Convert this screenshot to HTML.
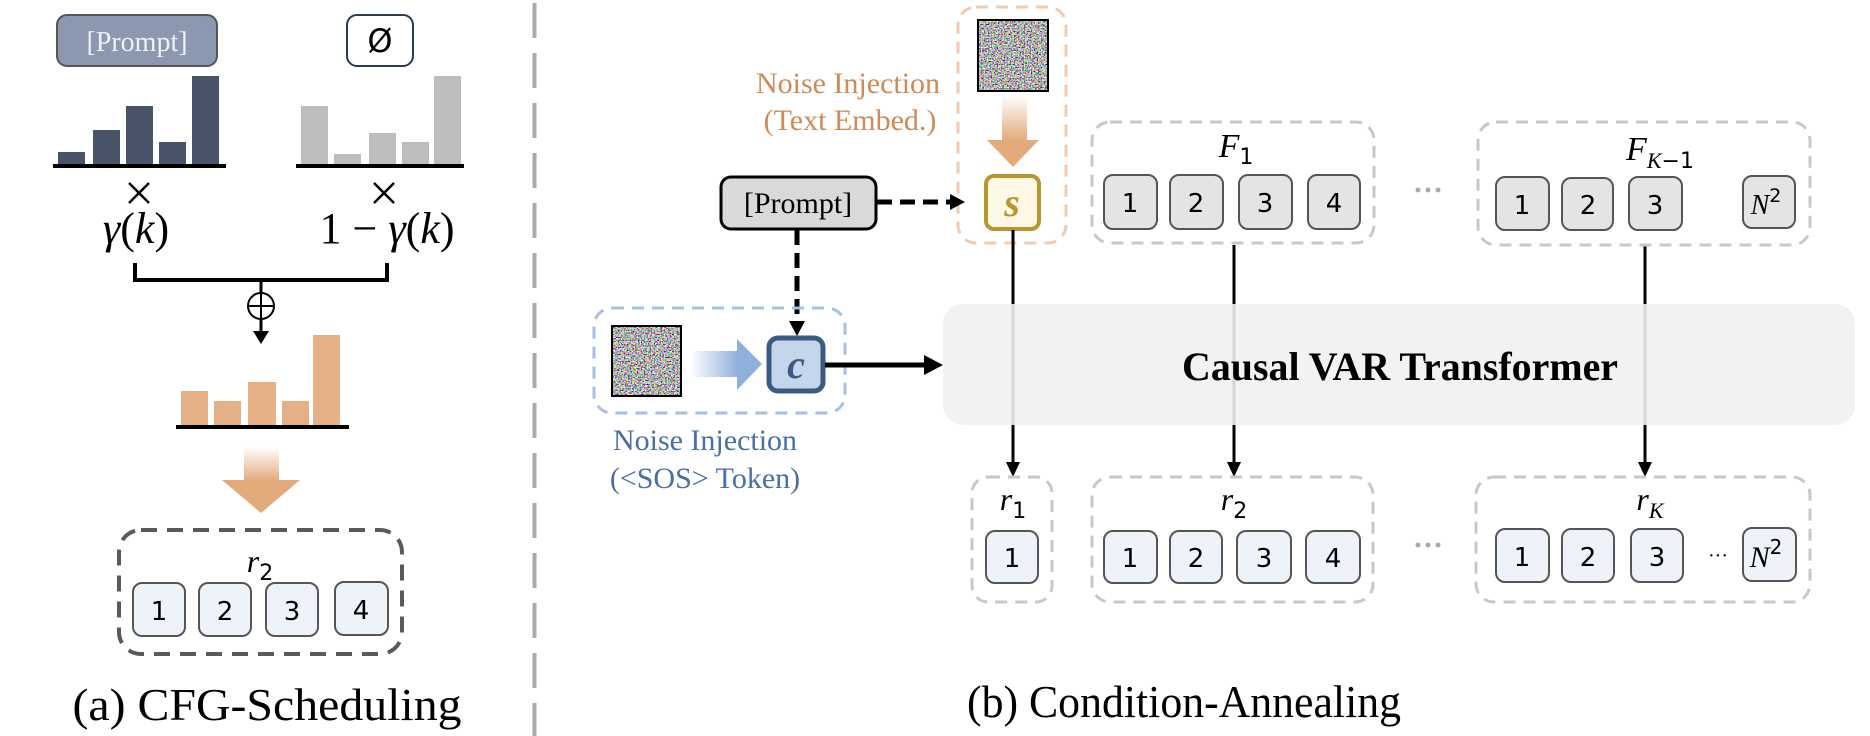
<!DOCTYPE html>
<html><head><meta charset="utf-8"><style>
html,body{margin:0;padding:0;background:#fff;}
svg{display:block;}
</style></head><body>
<svg width="1870" height="736" viewBox="0 0 1870 736" xmlns="http://www.w3.org/2000/svg">
<defs>
<filter id="nz" x="0" y="0" width="100%" height="100%">
<feTurbulence type="fractalNoise" baseFrequency="0.7" numOctaves="1" seed="3" result="t"/>
<feColorMatrix in="t" type="matrix" values="3.4 0 0 0 -1.2  0 3.4 0 0 -1.2  0 0 3.4 0 -1.2  0 0 0 0 1"/>
</filter>
<linearGradient id="og" x1="0" y1="0" x2="0" y2="1"><stop offset="0" stop-color="#e3aa7c" stop-opacity="0"/><stop offset="1" stop-color="#e3aa7c"/></linearGradient>
<linearGradient id="bg" x1="0" y1="0" x2="1" y2="0"><stop offset="0" stop-color="#8fb0db" stop-opacity="0"/><stop offset="1" stop-color="#8fb0db"/></linearGradient>
</defs>
<g font-family="'Liberation Serif', serif">

<!-- LEFT PANEL -->
<rect x="57" y="15" width="160" height="51" rx="10" fill="#8c98b0" stroke="#555" stroke-width="2"/>
<text x="137" y="51" font-size="28" fill="#eef1f6" text-anchor="middle">[Prompt]</text>
<rect x="347" y="15" width="66" height="51" rx="10" fill="#fff" stroke="#2d3a55" stroke-width="2"/>
<text x="380" y="52" font-size="32" text-anchor="middle" font-family="'DejaVu Sans',sans-serif">Ø</text>

<g fill="#4a5468">
<rect x="58" y="152" width="27" height="14"/><rect x="93" y="130" width="27" height="36"/><rect x="126" y="106" width="27" height="60"/><rect x="159" y="142" width="27" height="24"/><rect x="192" y="76" width="27" height="90"/>
</g>
<rect x="53" y="164" width="173" height="4" fill="#000"/>
<g fill="#bdbdbd">
<rect x="301" y="106" width="27" height="60"/><rect x="334" y="154" width="27" height="12"/><rect x="369" y="133" width="27" height="33"/><rect x="402" y="142" width="27" height="24"/><rect x="434" y="76" width="27" height="90"/>
</g>
<rect x="296" y="164" width="168" height="4" fill="#000"/>

<g stroke="#000" stroke-width="2.5">
<line x1="129" y1="183" x2="149" y2="203"/><line x1="149" y1="183" x2="129" y2="203"/>
<line x1="374" y1="183" x2="394" y2="203"/><line x1="394" y1="183" x2="374" y2="203"/>
</g>
<text x="136" y="243" font-size="44" text-anchor="middle"><tspan font-style="italic">γ</tspan>(<tspan font-style="italic">k</tspan>)</text>
<text x="387" y="243" font-size="44" text-anchor="middle">1 − <tspan font-style="italic">γ</tspan>(<tspan font-style="italic">k</tspan>)</text>

<path d="M135 263 V280 H387 V263" fill="none" stroke="#000" stroke-width="4"/>
<line x1="261" y1="280" x2="261" y2="333" stroke="#000" stroke-width="3"/>
<circle cx="261" cy="306" r="13" fill="#fff" stroke="#000" stroke-width="2"/>
<line x1="248" y1="306" x2="274" y2="306" stroke="#000" stroke-width="2"/>
<line x1="261" y1="293" x2="261" y2="319" stroke="#000" stroke-width="2"/>
<polygon points="253,331 269,331 261,344" fill="#000"/>

<g fill="#e3b088">
<rect x="181" y="391" width="27" height="36"/><rect x="214" y="401" width="27" height="26"/><rect x="248" y="382" width="28" height="45"/><rect x="282" y="401" width="27" height="26"/><rect x="313" y="335" width="27" height="92"/>
</g>
<rect x="176" y="425" width="173" height="4" fill="#000"/>

<rect x="244" y="447" width="35" height="34" fill="url(#og)"/>
<polygon points="222,480 300,480 261,513" fill="#e3aa7c"/>

<rect x="119" y="530" width="283" height="124" rx="22" fill="none" stroke="#5a5a5a" stroke-width="4" stroke-dasharray="16 10"/>
<text x="260" y="572" font-size="32" font-style="italic" text-anchor="middle">r<tspan font-size="22" font-style="normal" dy="8" font-family="'DejaVu Sans',sans-serif">2</tspan></text>
<g fill="#eef2f9" stroke="#555" stroke-width="2">
<rect x="133" y="583" width="52" height="53" rx="9"/><rect x="199" y="583" width="52" height="53" rx="9"/><rect x="266" y="583" width="52" height="53" rx="9"/><rect x="335" y="582" width="53" height="53" rx="9"/>
</g>
<g font-family="'DejaVu Sans',sans-serif" font-size="26" text-anchor="middle">
<text x="159" y="620">1</text><text x="225" y="620">2</text><text x="292" y="620">3</text><text x="361" y="619">4</text>
</g>
<text x="267" y="720" font-size="46" text-anchor="middle" textLength="389" lengthAdjust="spacingAndGlyphs">(a) CFG-Scheduling</text>

<!-- Divider -->
<line x1="534.5" y1="3" x2="534.5" y2="736" stroke="#aaa" stroke-width="4" stroke-dasharray="35 15"/>

<!-- RIGHT PANEL -->
<text x="848" y="93" font-size="30" fill="#d08a55" text-anchor="middle">Noise Injection</text>
<text x="850" y="130" font-size="30" fill="#d08a55" text-anchor="middle">(Text Embed.)</text>

<rect x="958" y="7" width="108" height="236" rx="18" fill="none" stroke="#f0cbb0" stroke-width="3" stroke-dasharray="12 8"/>
<rect x="978" y="20" width="70" height="71" filter="url(#nz)"/>
<rect x="978" y="20" width="70" height="71" fill="none" stroke="#000" stroke-width="2"/>
<rect x="1002" y="95" width="25" height="46" fill="url(#og)"/>
<polygon points="987,140 1039,140 1013,167" fill="#e3aa7c"/>
<rect x="986" y="176" width="53" height="53" rx="8" fill="#fdf7e6" stroke="#b8962e" stroke-width="4"/>
<text x="1012" y="216" font-size="40" font-style="italic" fill="#b8962e" text-anchor="middle" font-weight="bold">s</text>

<rect x="721" y="177" width="155" height="52" rx="10" fill="#d9d9d9" stroke="#000" stroke-width="3"/>
<text x="798" y="213" font-size="30" text-anchor="middle">[Prompt]</text>
<line x1="877" y1="202" x2="952" y2="202" stroke="#000" stroke-width="5" stroke-dasharray="15 8"/>
<polygon points="950,194 965,202 950,210" fill="#000"/>
<line x1="797" y1="230" x2="797" y2="322" stroke="#000" stroke-width="5" stroke-dasharray="15 8"/>
<polygon points="789,321 805,321 797,336" fill="#000"/>

<rect x="594" y="308" width="251" height="105" rx="18" fill="none" stroke="#a9c0e0" stroke-width="3" stroke-dasharray="12 8"/>
<rect x="612" y="326" width="69" height="70" filter="url(#nz)"/>
<rect x="612" y="326" width="69" height="70" fill="none" stroke="#000" stroke-width="2"/>
<rect x="690" y="351" width="48" height="26" fill="url(#bg)"/>
<polygon points="737,339 737,390 762,364" fill="#8fb0db"/>
<rect x="769" y="338" width="54" height="53" rx="9" fill="#c5d6ec" stroke="#3d5a80" stroke-width="5"/>
<text x="796" y="378" font-size="40" font-style="italic" font-weight="bold" fill="#3d5a80" text-anchor="middle">c</text>
<line x1="825" y1="365" x2="926" y2="365" stroke="#000" stroke-width="5"/>
<polygon points="924,355 943,365 924,375" fill="#000"/>

<text x="705" y="450" font-size="30" fill="#4a6fa5" text-anchor="middle">Noise Injection</text>
<text x="705" y="488" font-size="30" fill="#4a6fa5" text-anchor="middle">(&lt;SOS&gt; Token)</text>

<!-- Transformer -->
<rect x="943" y="304" width="912" height="121" rx="20" fill="#f2f2f2"/>
<g stroke="#d6d6d6" stroke-width="3">
<line x1="1013" y1="304" x2="1013" y2="425"/><line x1="1234" y1="304" x2="1234" y2="425"/><line x1="1645" y1="304" x2="1645" y2="425"/>
</g>
<text x="1400" y="380" font-size="40" font-weight="bold" text-anchor="middle" textLength="436" lengthAdjust="spacingAndGlyphs">Causal VAR Transformer</text>

<g stroke="#000" stroke-width="3">
<line x1="1013" y1="230" x2="1013" y2="304"/><line x1="1234" y1="245" x2="1234" y2="304"/><line x1="1645" y1="246" x2="1645" y2="304"/>
<line x1="1013" y1="425" x2="1013" y2="464"/><line x1="1234" y1="425" x2="1234" y2="464"/><line x1="1645" y1="425" x2="1645" y2="464"/>
</g>
<g fill="#000">
<polygon points="1006,462 1020,462 1013,477"/><polygon points="1227,462 1241,462 1234,477"/><polygon points="1638,462 1652,462 1645,477"/>
</g>

<g fill="none" stroke="#c8c8c8" stroke-width="3" stroke-dasharray="12 8">
<rect x="1092" y="122" width="282" height="121" rx="18"/>
<rect x="1478" y="122" width="332" height="123" rx="18"/>
<rect x="972" y="477" width="80" height="125" rx="16"/>
<rect x="1092" y="477" width="281" height="125" rx="18"/>
<rect x="1476" y="477" width="334" height="125" rx="18"/>
</g>
<g fill="#e4e4e4" stroke="#555" stroke-width="2">
<rect x="1104" y="175" width="53" height="54" rx="9"/><rect x="1170" y="175" width="53" height="54" rx="9"/><rect x="1239" y="175" width="53" height="54" rx="9"/><rect x="1308" y="175" width="52" height="54" rx="9"/>
<rect x="1496" y="177" width="53" height="53" rx="9"/><rect x="1562" y="178" width="51" height="52" rx="9"/><rect x="1629" y="177" width="53" height="53" rx="9"/><rect x="1743" y="176" width="52" height="52" rx="9"/>
</g>
<g fill="#eef2f9" stroke="#555" stroke-width="2">
<rect x="986" y="531" width="52" height="52" rx="9"/>
<rect x="1104" y="531" width="53" height="52" rx="9"/><rect x="1170" y="531" width="52" height="52" rx="9"/><rect x="1237" y="531" width="54" height="52" rx="9"/><rect x="1306" y="531" width="54" height="52" rx="9"/>
<rect x="1496" y="529" width="53" height="53" rx="9"/><rect x="1562" y="529" width="52" height="53" rx="9"/><rect x="1631" y="529" width="52" height="53" rx="9"/><rect x="1743" y="528" width="53" height="53" rx="9"/>
</g>
<g font-family="'DejaVu Sans',sans-serif" font-size="26" text-anchor="middle">
<text x="1130" y="212">1</text><text x="1196" y="212">2</text><text x="1265" y="212">3</text><text x="1334" y="212">4</text>
<text x="1522" y="214">1</text><text x="1588" y="214">2</text><text x="1655" y="214">3</text>
<text x="1012" y="567">1</text>
<text x="1130" y="567">1</text><text x="1196" y="567">2</text><text x="1264" y="567">3</text><text x="1333" y="567">4</text>
<text x="1522" y="566">1</text><text x="1588" y="566">2</text><text x="1657" y="566">3</text>
</g>
<text x="1766" y="214" font-size="28" font-style="italic" text-anchor="middle">N<tspan font-size="19" font-style="normal" dy="-12" font-family="'DejaVu Sans',sans-serif">2</tspan></text>
<text x="1766" y="567" font-size="30" font-style="italic" text-anchor="middle">N<tspan font-size="20" font-style="normal" dy="-13" font-family="'DejaVu Sans',sans-serif">2</tspan></text>
<text x="1718" y="562" font-size="20" text-anchor="middle">···</text>
<g fill="#aaa"><circle cx="1418" cy="190" r="2.5"/><circle cx="1428" cy="190" r="2.5"/><circle cx="1438" cy="190" r="2.5"/>
<circle cx="1418" cy="545" r="2.5"/><circle cx="1428" cy="545" r="2.5"/><circle cx="1438" cy="545" r="2.5"/></g>

<text x="1236" y="157" font-size="34" font-style="italic" text-anchor="middle">F<tspan font-size="22" font-style="normal" dy="7" font-family="'DejaVu Sans',sans-serif">1</tspan></text>
<text x="1660" y="160" font-size="34" font-style="italic" text-anchor="middle">F<tspan font-size="22" dy="8">K</tspan><tspan font-size="22" font-style="normal" font-family="'DejaVu Sans',sans-serif">−1</tspan></text>
<text x="1013" y="510" font-size="32" font-style="italic" text-anchor="middle">r<tspan font-size="22" font-style="normal" dy="8" font-family="'DejaVu Sans',sans-serif">1</tspan></text>
<text x="1234" y="510" font-size="32" font-style="italic" text-anchor="middle">r<tspan font-size="22" font-style="normal" dy="8" font-family="'DejaVu Sans',sans-serif">2</tspan></text>
<text x="1650" y="510" font-size="32" font-style="italic" text-anchor="middle">r<tspan font-size="22" dy="8">K</tspan></text>

<text x="967" y="717" font-size="46" textLength="434" lengthAdjust="spacingAndGlyphs">(b) Condition-Annealing</text>
</g>
</svg>
</body></html>
